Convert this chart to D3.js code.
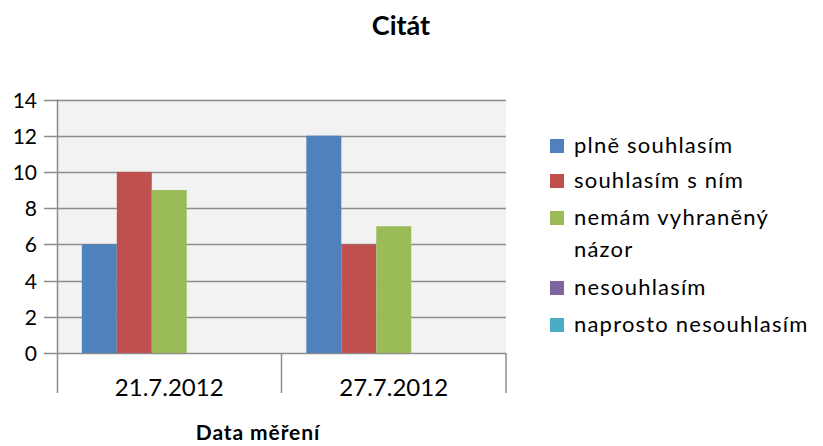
<!DOCTYPE html>
<html>
<head>
<meta charset="utf-8">
<script src="https://cdn.jsdelivr.net/npm/d3@7"></script>
<style>
  body { margin: 0; background: #fff; }
  text { font-family: Lato, "Open Sans", sans-serif; fill: #000; }
</style>
</head>
<body>
<svg id="chart" width="823" height="446"></svg>
<script>
// Chart data
const categories = ["21.7.2012", "27.7.2012"];
const seriesNames = ["plně souhlasím", "souhlasím s ním", "nemám vyhraněný názor", "nesouhlasím", "naprosto nesouhlasím"];
const seriesColors = ["#4F81BD", "#C0504D", "#9BBB59", "#8064A2", "#4BACC6"];
const values = [
    [6, 12],   // plně souhlasím
    [10, 6],   // souhlasím s ním
    [9, 7],    // nemám vyhraněný názor
    [0, 0],    // nesouhlasím
    [0, 0]     // naprosto nesouhlasím
];
const yTicks = [0, 2, 4, 6, 8, 10, 12, 14];

const svg = d3.select("#chart");
const plot = {left: 57, right: 506, top: 99.5, bottom: 353};

// Scales
let x = d3.scaleBand()
    .domain(categories)
    .range([plot.left, plot.right]);
let xInner = d3.scaleBand()
    .domain(seriesNames)
    .range([0, x.bandwidth()])
    .paddingOuter(0.71);
let y = d3.scaleLinear()
    .domain([0, 14])
    .range([plot.bottom, plot.top]);

// Plot background
svg.append("rect")
    .attr("x", plot.left)
    .attr("y", plot.top)
    .attr("width", plot.right - plot.left)
    .attr("height", plot.bottom - plot.top)
    .attr("fill", "#F2F2F2");

// Gridlines + y ticks
svg.append("g")
    .selectAll("line")
    .data(yTicks)
    .join("line")
        .attr("x1", plot.left - 13)
        .attr("x2", plot.right)
        .attr("y1", d => Math.round(y(d)) + 0.5)
        .attr("y2", d => Math.round(y(d)) + 0.5)
        .attr("stroke", "#8C8C8C")
        .attr("stroke-width", 1.5);

svg.append("g")
    .selectAll("text")
    .data(yTicks)
    .join("text")
        .attr("x", 37)
        .attr("y", d => y(d) + 8)
        .attr("text-anchor", "end")
        .style("font-size", "21px")
        .text(d => d);

// Bars
categories.forEach(function(cat, ci) {
    svg.append("g")
        .selectAll("rect")
        .data(seriesNames.map((s, si) => ({s: s, v: values[si][ci], c: seriesColors[si]})))
        .join("rect")
            .attr("x", d => x(cat) + xInner(d.s))
            .attr("y", d => y(d.v))
            .attr("width", xInner.bandwidth())
            .attr("height", d => y(0) - y(d.v))
            .attr("fill", d => d.c);
});

// Y axis line and category dividers
svg.append("line")
    .attr("x1", plot.left + 0.5).attr("x2", plot.left + 0.5)
    .attr("y1", plot.top).attr("y2", 393)
    .attr("stroke", "#8C8C8C").attr("stroke-width", 1.5);

svg.append("g")
    .selectAll("line")
    .data(categories.slice(1).map(c => x(c)).concat([plot.right]))
    .join("line")
        .attr("x1", d => d).attr("x2", d => d)
        .attr("y1", plot.bottom).attr("y2", 393)
        .attr("stroke", "#8C8C8C").attr("stroke-width", 1.5);

svg.append("g")
    .selectAll("text")
    .data(categories)
    .join("text")
        .attr("x", d => x(d) + x.bandwidth() / 2)
        .attr("y", 396)
        .attr("text-anchor", "middle")
        .style("font-size", "24px")
        .text(d => d);

// Titles
svg.append("text")
    .attr("x", 401).attr("y", 35)
    .attr("text-anchor", "middle")
    .style("font-size", "27px")
    .style("font-weight", "bold")
    .text("Citát");

svg.append("text")
    .attr("x", 258).attr("y", 440)
    .attr("text-anchor", "middle")
    .style("font-size", "21px")
    .style("font-weight", "bold")
    .style("letter-spacing", "0.9px")
    .text("Data měření");

// Legend
const legendRows = [["plně souhlasím"], ["souhlasím s ním"], ["nemám vyhraněný", "názor"], ["nesouhlasím"], ["naprosto nesouhlasím"]];
const legendY = [153, 188, 225, 295, 332];
let legend = svg.append("g");
legendRows.forEach(function(lines, i) {
    legend.append("rect")
        .attr("x", 550).attr("y", legendY[i] - 14)
        .attr("width", 14).attr("height", 14)
        .attr("fill", seriesColors[i]);
    lines.forEach(function(t, li) {
        legend.append("text")
            .attr("x", 574)
            .attr("y", legendY[i] + li * 32)
            .style("font-size", "22px")
            .style("letter-spacing", "1.2px")
            .text(t);
    });
});
</script>
</body>
</html>
